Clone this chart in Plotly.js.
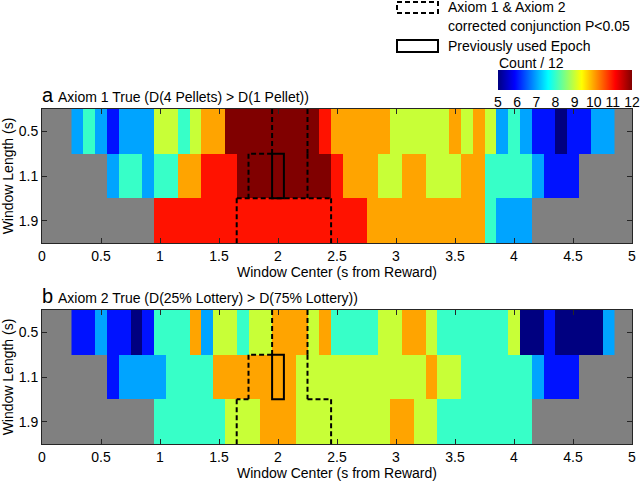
<!DOCTYPE html>
<html>
<head>
<meta charset="utf-8">
<script src="https://cdn.plot.ly/plotly-3.0.1.min.js"></script>
<style>html,body{margin:0;padding:0;background:#fff;}#chart{width:640px;height:481px;}</style>
</head>
<body>
<div id="chart"></div>
<script>
// ---------------- DATA ----------------
const N = null;
// window centers (s from reward), one per heatmap column
const windowCenters = [0.3,0.4,0.5,0.6,0.7,0.8,0.9,1.0,1.1,1.2,1.3,1.4,1.5,1.6,1.7,1.8,1.9,2.0,2.1,2.2,2.3,2.4,2.5,2.6,2.7,2.8,2.9,3.0,3.1,3.2,3.3,3.4,3.5,3.6,3.7,3.8,3.9,4.0,4.1,4.2,4.3,4.4,4.5,4.6,4.7,4.8];
const windowLengthLabels = ['0.5','1.1','1.9'];
const xTickVals = [0,0.5,1,1.5,2,2.5,3,3.5,4,4.5,5];
const colorTickVals = [5,6,7,8,9,10,11,12];

// Panel a: Axiom 1 True (count / 12)
const axiom1_len05 = [7,8,7,6,7,7,7,9,9,8,9,10,10,12,12,12,12,12,12,12,12,11,10,10,10,10,10,9,9,9,9,9,10,9,10,9,7,8,7,6,6,5,6,6,7,7];
const axiom1_len11 = [N,N,N,7,8,8,7,8,8,10,10,11,11,11,12,12,12,12,12,12,12,12,11,10,10,10,9,9,10,10,9,9,9,10,10,8,8,8,8,7,6,6,6,N,N,N];
const axiom1_len19 = [N,N,N,N,N,N,N,11,11,11,11,11,11,11,11,11,11,11,11,11,11,11,11,11,11,10,10,10,10,10,10,10,10,10,10,8,7,7,7,N,N,N,N,N,N,N];

// Panel b: Axiom 2 True (count / 12)
const axiom2_len05 = [6,6,7,6,6,5,6,8,8,8,10,7,9,9,8,9,9,10,10,10,9,10,8,8,8,8,9,9,10,10,9,8,8,8,8,8,8,9,5,5,6,5,5,5,5,7];
const axiom2_len11 = [N,N,N,6,7,7,7,7,8,8,8,8,10,10,10,10,10,10,10,9,9,9,9,9,9,9,9,9,9,9,10,9,9,8,8,8,8,8,8,7,6,6,6,N,N,N];
const axiom2_len19 = [N,N,N,N,N,N,N,8,8,8,8,8,8,9,9,9,10,10,10,9,9,9,9,9,9,9,9,10,10,9,9,8,8,8,8,8,8,8,8,N,N,N,N,N,N,N];

// Conjunction region (P<0.05): first / last window center per window length row
const conjFirstCenter = [2.0, 1.8, 1.7];
const conjLastCenter  = [2.2, 2.2, 2.4];
// Previously used epoch
const epochCenter = 2.0;
const epochLengthRow = 1; // '1.1'

// ---------------- LAYOUT HELPERS ----------------
const W = 640, H = 481, L = 42, R = 8, T = 109, B = 37;
const px = x => (x - L) / (W - L - R);
const py = y => (H - B - y) / (H - T - B);
const halfStep = 0.05;
const FONT = 'Liberation Sans, Arial, Helvetica, sans-serif';
const INK = '#000000';
const AX = '#262626';

const jet = [
  [0, 'rgb(0,0,128)'],
  [0.125, 'rgb(0,0,255)'],
  [0.375, 'rgb(0,255,255)'],
  [0.625, 'rgb(255,255,0)'],
  [0.875, 'rgb(255,0,0)'],
  [1, 'rgb(128,0,0)']
];

function heat(z, xa, ya, showScale) {
  const t = {
    type: 'heatmap', x: windowCenters, y: [0,1,2], z: z,
    xaxis: xa, yaxis: ya, zmin: 5, zmax: 12, colorscale: jet,
    showscale: showScale, hoverinfo: 'skip', xgap: 0, ygap: 0
  };
  if (showScale) {
    t.colorbar = {
      orientation: 'h', x: px(498), xanchor: 'left', y: py(106), yanchor: 'bottom',
      len: 134, lenmode: 'pixels', thickness: 20, thicknessmode: 'pixels',
      xpad: 0, ypad: 0, outlinewidth: 0, borderwidth: 0,
      tickvals: colorTickVals, ticks: '', tickfont: {family: FONT, size: 14, color: INK}
    };
  }
  return t;
}

function conjShapes(xr, yr, fullInnerEdge) {
  const s = [];
  const dashed = {color: INK, width: 2, dash: '5px,3px'};
  const lo = conjFirstCenter.map(c => c - halfStep);
  const hi = conjLastCenter.map(c => c + halfStep);
  for (let r = 0; r < lo.length; r++) {
    s.push({type:'line', xref:xr, yref:yr, x0:lo[r], x1:lo[r], y0:r-0.5, y1:r+0.5, line:dashed});
    s.push({type:'line', xref:xr, yref:yr, x0:hi[r], x1:hi[r], y0:r-0.5, y1:r+0.5, line:dashed});
    if (r + 1 < lo.length) {
      if (fullInnerEdge && r + 1 === lo.length - 1) {
        s.push({type:'line', xref:xr, yref:yr, x0:lo[r+1], x1:hi[r+1], y0:r+0.5, y1:r+0.5, line:dashed});
      } else {
        if (Math.abs(lo[r]-lo[r+1]) > 1e-9) s.push({type:'line', xref:xr, yref:yr, x0:lo[r], x1:lo[r+1], y0:r+0.5, y1:r+0.5, line:dashed});
        if (Math.abs(hi[r]-hi[r+1]) > 1e-9) s.push({type:'line', xref:xr, yref:yr, x0:hi[r], x1:hi[r+1], y0:r+0.5, y1:r+0.5, line:dashed});
      }
    }
  }
  s.push({type:'rect', xref:xr, yref:yr, x0:epochCenter-halfStep, x1:epochCenter+halfStep,
          y0:epochLengthRow-0.5, y1:epochLengthRow+0.5, line:{color:INK, width:2}, fillcolor:'rgba(0,0,0,0)'});
  return s;
}

function xAxis(anchor) {
  return {
    domain: [0,1], anchor: anchor, range: [0,5], tickvals: xTickVals,
    showline: true, linecolor: AX, linewidth: 1, mirror: 'ticks',
    ticks: 'inside', ticklen: 5, tickcolor: AX, tickwidth: 1,
    showgrid: false, zeroline: false,
    tickfont: {family: FONT, size: 14, color: INK},
    title: {text: 'Window Center (s from Reward)', font: {family: FONT, size: 14, color: INK}, standoff: 4}
  };
}
function yAxis(anchor, domain) {
  return {
    domain: domain, anchor: anchor, range: [2.5,-0.5], tickvals: [0,1,2], ticktext: windowLengthLabels,
    showline: true, linecolor: AX, linewidth: 1, mirror: 'ticks',
    ticks: 'inside', ticklen: 5, tickcolor: AX, tickwidth: 1,
    showgrid: false, zeroline: false,
    tickfont: {family: FONT, size: 14, color: INK},
    title: {text: 'Window Length (s)', font: {family: FONT, size: 14, color: INK}, standoff: 2}
  };
}

function ann(text, x, y, size, anchor) {
  return {text: text, xref:'paper', yref:'paper', x: px(x), y: py(y), xanchor: anchor || 'left', yanchor: 'middle',
          showarrow: false, font: {family: FONT, size: size, color: INK}};
}

const data = [
  heat([axiom1_len05, axiom1_len11, axiom1_len19], 'x', 'y', true),
  heat([axiom2_len05, axiom2_len11, axiom2_len19], 'x2', 'y2', false)
];

const layout = {
  width: W, height: H,
  margin: {l: L, r: R, t: T, b: B, pad: 0},
  paper_bgcolor: '#ffffff', plot_bgcolor: '#808080',
  showlegend: false,
  font: {family: FONT, size: 14, color: INK},
  xaxis: xAxis('y'), yaxis: yAxis('x', [0.6, 1]),
  xaxis2: xAxis('y2'), yaxis2: yAxis('x2', [0, 0.4]),
  shapes: [].concat(
    conjShapes('x', 'y', true),
    conjShapes('x2', 'y2', false),
    [
      {type:'rect', xref:'paper', yref:'paper', x0:px(397), x1:px(438), y0:py(2), y1:py(13),
       line:{color:INK, width:2, dash:'5px,3px'}, fillcolor:'rgba(0,0,0,0)'},
      {type:'rect', xref:'paper', yref:'paper', x0:px(397), x1:px(438), y0:py(40), y1:py(52),
       line:{color:INK, width:2}, fillcolor:'rgba(0,0,0,0)'}
    ]
  ),
  annotations: [
    ann('a', 40, 95, 20),
    ann('Axiom 1 True (D(4 Pellets) &gt; D(1 Pellet))', 56, 97, 14),
    ann('b', 40, 296, 20),
    ann('Axiom 2 True (D(25% Lottery) &gt; D(75% Lottery))', 56, 298, 14),
    ann('Axiom 1 &amp; Axiom 2', 446, 7, 14),
    ann('corrected conjunction P&lt;0.05', 446, 26, 14),
    ann('Previously used Epoch', 446, 46, 14),
    ann('Count / 12', 497, 63, 14)
  ]
};

Plotly.newPlot('chart', data, layout, {displayModeBar: false, staticPlot: true});
</script>
</body>
</html>
